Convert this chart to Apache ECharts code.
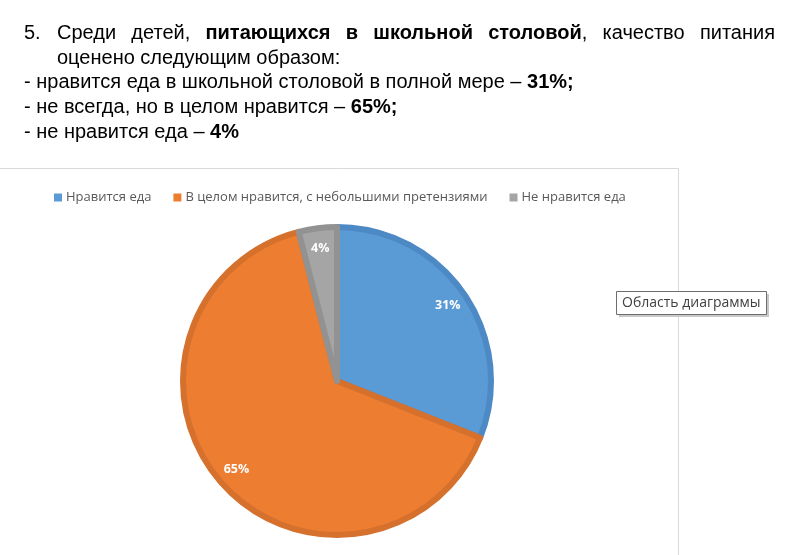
<!DOCTYPE html>
<html><head><meta charset="utf-8">
<script src="https://cdn.jsdelivr.net/npm/echarts@6/dist/echarts.min.js"></script>
<style>
html,body{margin:0;padding:0;background:#fff;width:801px;height:555px;overflow:hidden}
#chart{position:absolute;left:0;top:0;width:801px;height:555px}
#txt{position:absolute;left:24px;top:20px;width:751px;font-family:"Liberation Sans",Arial,sans-serif;font-size:20px;line-height:24.7px;color:#000;white-space:nowrap}
#txt .l1{text-align:justify;text-align-last:justify;white-space:normal}
#txt .num{display:inline-block;width:33px}
#txt .l2{padding-left:33px}
</style>
</head><body>
<div id="chart"></div>
<div id="txt">
<div class="l1"><span class="num">5.</span>Среди детей, <b>питающихся в школьной столовой</b>, качество питания</div>
<div class="l2">оценено следующим образом:</div>
<div>- нравится еда в школьной столовой в полной мере – <b>31%;</b></div>
<div>- не всегда, но в целом нравится – <b>65%;</b></div>
<div>- не нравится еда – <b>4%</b></div>
</div>
<script>
var categories = ['Нравится еда', 'В целом нравится, с небольшими претензиями', 'Не нравится еда'];
var values = [31, 65, 4];
var fillColors = ['#5B9BD5', '#ED7D31', '#A5A5A5'];
var borderColors = ['#4C89C5', '#D5712D', '#929292'];
var tipText = 'Область диаграммы';

var chart = echarts.init(document.getElementById('chart'));
var mainData = categories.map(function (c, i) {
  return { name: c, value: values[i], itemStyle: { color: fillColors[i], borderColor: borderColors[i] } };
});
var labelData = categories.map(function (c, i) {
  return { name: c, value: values[i] };
});
chart.setOption({
  animation: false,
  color: fillColors,
  legend: {
    data: categories,
    left: 49, top: 186,
    icon: 'rect', itemWidth: 8, itemHeight: 8, itemGap: 22,
    itemStyle: { borderWidth: 0 },
    textStyle: { fontFamily: 'Open Sans', fontSize: 13, color: '#595959', padding: [0, 0, 0, -1] }
  },
  graphic: [
    { type: 'polyline', silent: true, shape: { points: [[-5, 168.5], [678.5, 168.5], [678.5, 560]] },
      style: { stroke: '#D9D9D9', lineWidth: 1, fill: null } },
    { type: 'rect', silent: true, shape: { x: 619, y: 294, width: 150, height: 23 }, style: { fill: '#C8C8C8' } },
    { type: 'rect', silent: true, shape: { x: 616.5, y: 291.5, width: 150, height: 23 },
      style: { fill: '#fff', stroke: '#6E6E6E', lineWidth: 1 } },
    { type: 'text', silent: true, x: 622, y: 303,
      style: { text: tipText, fontFamily: 'Open Sans', fontSize: 14, fill: '#404040', verticalAlign: 'middle' } }
  ],
  series: [
    {
      type: 'pie', center: [337, 381], radius: [0, 154], startAngle: 90, clockwise: true,
      silent: true, label: { show: false }, labelLine: { show: false },
      itemStyle: { borderWidth: 6 },
      data: mainData
    },
    {
      type: 'pie', center: [337, 381], radius: [108, 154], startAngle: 90, clockwise: true,
      silent: true, legendHoverLink: false,
      itemStyle: { color: 'rgba(0,0,0,0)' },
      label: { show: true, position: 'inside', formatter: '{c}%', color: '#fff',
        fontFamily: 'Open Sans', fontWeight: 'bold', fontSize: 12.5 },
      labelLine: { show: false },
      data: labelData
    }
  ]
});
</script>
</body></html>
